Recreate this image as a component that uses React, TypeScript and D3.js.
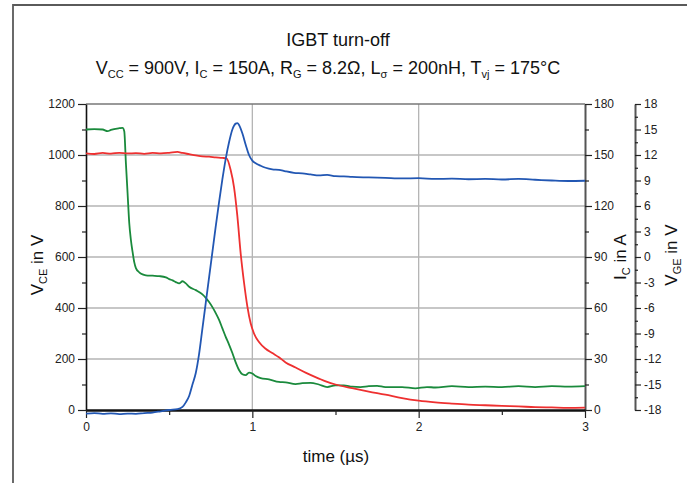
import React, { useEffect, useRef } from "react";
import * as d3 from "d3";

// ---- Data ----
// V_CE in V (left axis)
const T_VCE = [0, 0.05, 0.1, 0.15, 0.2, 0.25, 0.3, 0.35, 0.4, 0.45, 0.5, 0.55, 0.58, 0.6, 0.62, 0.64, 0.66, 0.68, 0.7, 0.72, 0.74, 0.76, 0.78, 0.8, 0.82, 0.84, 0.86, 0.88, 0.9, 0.91, 0.92, 0.94, 0.96, 0.98, 1.0, 1.02, 1.05, 1.08, 1.12, 1.16, 1.2, 1.25, 1.3, 1.35, 1.4, 1.45, 1.5, 1.55, 1.6, 1.7, 1.8, 1.9, 2.0, 2.1, 2.2, 2.3, 2.4, 2.5, 2.6, 2.7, 2.8, 2.9, 3.0];
const VCE = [-14, -12, -15, -13, -16, -14, -15, -12, -10, -5, 0, 3, 12, 30, 55, 100, 145, 220, 320, 420, 520, 620, 720, 815, 905, 985, 1050, 1100, 1123, 1125, 1118, 1085, 1040, 1000, 978, 968, 958, 950, 944, 942, 936, 930, 928, 924, 920, 922, 917, 916, 914, 912, 910, 908, 909, 906, 907, 905, 906, 904, 906, 903, 900, 898, 899];

// I_C in A (right axis)
const T_IC = [0, 0.05, 0.1, 0.15, 0.2, 0.25, 0.3, 0.35, 0.4, 0.45, 0.5, 0.55, 0.58, 0.62, 0.66, 0.7, 0.74, 0.78, 0.82, 0.845, 0.87, 0.89, 0.91, 0.93, 0.95, 0.97, 0.99, 1.01, 1.04, 1.08, 1.12, 1.16, 1.2, 1.26, 1.32, 1.4, 1.45, 1.5, 1.6, 1.7, 1.8, 1.9, 2.0, 2.1, 2.2, 2.3, 2.4, 2.5, 2.6, 2.7, 2.8, 2.9, 3.0];
const IC = [151, 150.6, 151.2, 150.8, 151.3, 150.9, 151.1, 150.7, 151.2, 151, 151.3, 151.8, 151.2, 150.5, 149.8, 149.2, 149, 148.6, 148.3, 148, 141, 131, 114, 92, 75, 61, 51, 45, 40, 36, 33.5, 31, 28, 25, 22, 18.5, 16.5, 15, 12.8, 10.8, 9, 7, 5.5, 4.5, 3.8, 3.2, 2.8, 2.4, 2.1, 1.7, 1.5, 1.3, 1.4];

// V_GE in V (far right axis)
const T_VGE = [0, 0.05, 0.1, 0.13, 0.15, 0.2, 0.22, 0.23, 0.24, 0.25, 0.26, 0.27, 0.28, 0.29, 0.3, 0.32, 0.34, 0.36, 0.4, 0.44, 0.48, 0.5, 0.52, 0.54, 0.56, 0.58, 0.6, 0.62, 0.66, 0.7, 0.72, 0.74, 0.76, 0.78, 0.8, 0.82, 0.84, 0.86, 0.88, 0.9, 0.92, 0.94, 0.96, 0.98, 1.0, 1.02, 1.05, 1.1, 1.16, 1.2, 1.26, 1.3, 1.35, 1.4, 1.45, 1.5, 1.55, 1.6, 1.65, 1.7, 1.75, 1.8, 1.9, 1.98, 2.05, 2.1, 2.2, 2.3, 2.4, 2.5, 2.6, 2.7, 2.8, 2.9, 3.0];
const VGE = [15.0, 15.05, 15.0, 14.8, 14.95, 15.15, 15.2, 14.8, 11, 7.5, 4, 2, 0.6, -0.6, -1.3, -1.8, -2.05, -2.15, -2.2, -2.25, -2.4, -2.6, -2.75, -2.95, -3.1, -2.85, -3.1, -3.5, -3.9, -4.4, -4.8, -5.3, -5.9, -6.6, -7.4, -8.4, -9.4, -10.3, -11.3, -12.4, -13.3, -13.8, -13.9, -13.6, -13.7, -14.0, -14.25, -14.4, -14.7, -14.75, -14.95, -14.85, -14.8, -15.0, -15.3, -15.1, -15.1, -15.25, -15.3, -15.2, -15.15, -15.3, -15.3, -15.45, -15.3, -15.35, -15.2, -15.3, -15.25, -15.3, -15.2, -15.3, -15.2, -15.25, -15.2];

// Ticks
const X_TICKS = [0, 1, 2, 3];
const X_MINOR = [0.5, 1.5, 2.5];
const VCE_TICKS = [0, 200, 400, 600, 800, 1000, 1200];
const VCE_MINOR = [100, 300, 500, 700, 900, 1100];
const IC_TICKS = [0, 30, 60, 90, 120, 150, 180];
const IC_MINOR = [15, 45, 75, 105, 135, 165];
const VGE_TICKS = [-18, -15, -12, -9, -6, -3, 0, 3, 6, 9, 12, 15, 18];
const VGE_MINOR = [-16.5, -13.5, -10.5, -7.5, -4.5, -1.5, 1.5, 4.5, 7.5, 10.5, 13.5, 16.5];

const TITLE = "IGBT turn-off";
const SUBTITLE: [string, boolean][] = [
  ["V", false], ["CC", true], [" = 900V, I", false], ["C", true], [" = 150A, R", false], ["G", true],
  [" = 8.2Ω, L", false], ["σ", true], [" = 200nH, T", false], ["vj", true], [" = 175°C", false],
];

const FONT = "'Liberation Sans', Arial, Helvetica, sans-serif";
const C_VCE = "#2257b3";
const C_IC = "#ee3030";
const C_VGE = "#1a8a3c";

function rich(sel: any, parts: [string, boolean][], size: number, subSize: number) {
  let inSub = false;
  parts.forEach(([txt, sub]) => {
    const t = sel.append("tspan").text(txt);
    if (sub) {
      t.attr("font-size", subSize);
      if (!inSub) t.attr("dy", 4);
      inSub = true;
    } else {
      t.attr("font-size", size);
      if (inSub) t.attr("dy", -4);
      inSub = false;
    }
  });
}

const fmt = (d: any) => String(d);

export default function App() {
  const ref = useRef<SVGSVGElement>(null);

  useEffect(() => {
    const svg = d3.select(ref.current);
    svg.selectAll("*").remove();

    const L = 86, R = 585, TOP = 104, BOT = 410;
    const x = d3.scaleLinear().domain([0, 3]).range([L, R]);
    const yV = d3.scaleLinear().domain([0, 1200]).range([BOT, TOP]);
    const yI = d3.scaleLinear().domain([0, 180]).range([BOT, TOP]);
    const yG = d3.scaleLinear().domain([-18, 18]).range([BOT, TOP]);

    svg.append("rect").attr("width", 687).attr("height", 483).attr("fill", "#fff");

    // outer frame
    svg.append("path").attr("d", "M13,483 V5 H687").attr("fill", "none").attr("stroke", "#5a5a5a").attr("stroke-width", 1.8);

    // grid
    const g = svg.append("g");
    VCE_TICKS.filter((v) => v > 0 && v < 1200).forEach((v) => {
      g.append("line").attr("x1", L).attr("x2", R).attr("y1", yV(v)).attr("y2", yV(v)).attr("stroke", "#b4b4b4").attr("stroke-width", 1.3);
    });
    X_TICKS.filter((v) => v > 0 && v < 3).forEach((v) => {
      g.append("line").attr("x1", x(v)).attr("x2", x(v)).attr("y1", TOP).attr("y2", BOT).attr("stroke", "#b4b4b4").attr("stroke-width", 1.3);
    });
    // top border
    g.append("line").attr("x1", L).attr("x2", R).attr("y1", TOP).attr("y2", TOP).attr("stroke", "#777").attr("stroke-width", 1.5);

    const styleAxis = (a: any, domainColor: string, domainWidth: number) => {
      a.selectAll("text").attr("font-family", FONT).attr("font-size", 12).attr("fill", "#222");
      a.selectAll(".tick line").attr("stroke", "#222").attr("stroke-width", 1.2);
      a.select(".domain").attr("stroke", domainColor).attr("stroke-width", domainWidth);
    };
    const minorStyle = (s: any) => {
      s.select(".domain").remove();
      s.selectAll("line").attr("stroke", "#222").attr("stroke-width", 1.2);
    };

    // left axis
    const aL = svg.append("g").attr("transform", `translate(${L},0)`)
      .call(d3.axisLeft(yV).tickValues(VCE_TICKS).tickSize(8).tickSizeOuter(0).tickPadding(3).tickFormat(fmt));
    styleAxis(aL, "#111", 1.6);
    svg.append("g").attr("transform", `translate(${L},0)`)
      .call(d3.axisLeft(yV).tickValues(VCE_MINOR).tickSize(4).tickSizeOuter(0).tickFormat(() => ""))
      .call(minorStyle);

    // right I_C axis
    const aR = svg.append("g").attr("transform", `translate(${R},0)`)
      .call(d3.axisRight(yI).tickValues(IC_TICKS).tickSize(7).tickSizeOuter(0).tickPadding(2).tickFormat(fmt));
    styleAxis(aR, "#555", 2);
    svg.append("g").attr("transform", `translate(${R},0)`)
      .call(d3.axisRight(yI).tickValues(IC_MINOR).tickSize(4).tickSizeOuter(0).tickFormat(() => ""))
      .call(minorStyle);

    // V_GE axis
    const GX = 635;
    const aG = svg.append("g").attr("transform", `translate(${GX},0)`)
      .call(d3.axisRight(yG).tickValues(VGE_TICKS).tickSize(6).tickSizeOuter(0).tickPadding(3).tickFormat(fmt));
    styleAxis(aG, "#555", 2);
    svg.append("g").attr("transform", `translate(${GX},0)`)
      .call(d3.axisRight(yG).tickValues(VGE_MINOR).tickSize(3).tickSizeOuter(0).tickFormat(() => ""))
      .call(minorStyle);

    // bottom axis at y = 0
    const aB = svg.append("g").attr("transform", `translate(0,${BOT})`)
      .call(d3.axisBottom(x).tickValues(X_TICKS).tickSize(8).tickSizeOuter(0).tickPadding(4).tickFormat(fmt));
    styleAxis(aB, "#111", 2.4);
    svg.append("g").attr("transform", `translate(0,${BOT})`)
      .call(d3.axisBottom(x).tickValues(X_MINOR).tickSize(5).tickSizeOuter(0).tickFormat(() => ""))
      .call(minorStyle);

    // curves
    const mk = (ts: number[], vs: number[], ys: any) =>
      d3.line<number>().x((_, i) => x(ts[i])).y((v) => ys(v)).curve(d3.curveMonotoneX)(vs);
    const curves: [number[], number[], any, string][] = [
      [T_VGE, VGE, yG, C_VGE],
      [T_IC, IC, yI, C_IC],
      [T_VCE, VCE, yV, C_VCE],
    ];
    curves.forEach(([ts, vs, ys, c]) => {
      svg.append("path").attr("d", mk(ts, vs, ys)).attr("fill", "none").attr("stroke", c).attr("stroke-width", 1.8).attr("stroke-linejoin", "round");
    });

    // titles
    svg.append("text").attr("x", 338).attr("y", 46).attr("text-anchor", "middle").attr("font-family", FONT).attr("font-size", 18).attr("fill", "#111").text(TITLE);
    const st = svg.append("text").attr("x", 328).attr("y", 74).attr("text-anchor", "middle").attr("font-family", FONT).attr("fill", "#111");
    rich(st, SUBTITLE, 18, 11);

    // axis labels
    const lv = svg.append("text").attr("transform", "translate(43,265) rotate(-90)").attr("text-anchor", "middle").attr("font-family", FONT).attr("fill", "#111");
    rich(lv, [["V", false], ["CE", true], [" in V", false]], 17, 11);
    const li = svg.append("text").attr("transform", "translate(626,257) rotate(-90)").attr("text-anchor", "middle").attr("font-family", FONT).attr("fill", "#111");
    rich(li, [["I", false], ["C", true], [" in A", false]], 17, 11);
    const lg = svg.append("text").attr("transform", "translate(677,255) rotate(-90)").attr("text-anchor", "middle").attr("font-family", FONT).attr("fill", "#111");
    rich(lg, [["V", false], ["GE", true], [" in V", false]], 17, 11);

    svg.append("text").attr("x", 336).attr("y", 462).attr("text-anchor", "middle").attr("font-family", FONT).attr("font-size", 17).attr("fill", "#111").text("time (µs)");
  }, []);

  return (
    <svg
      ref={ref}
      width={687}
      height={483}
      style={{ position: "absolute", left: 0, top: 0, display: "block" }}
    />
  );
}
